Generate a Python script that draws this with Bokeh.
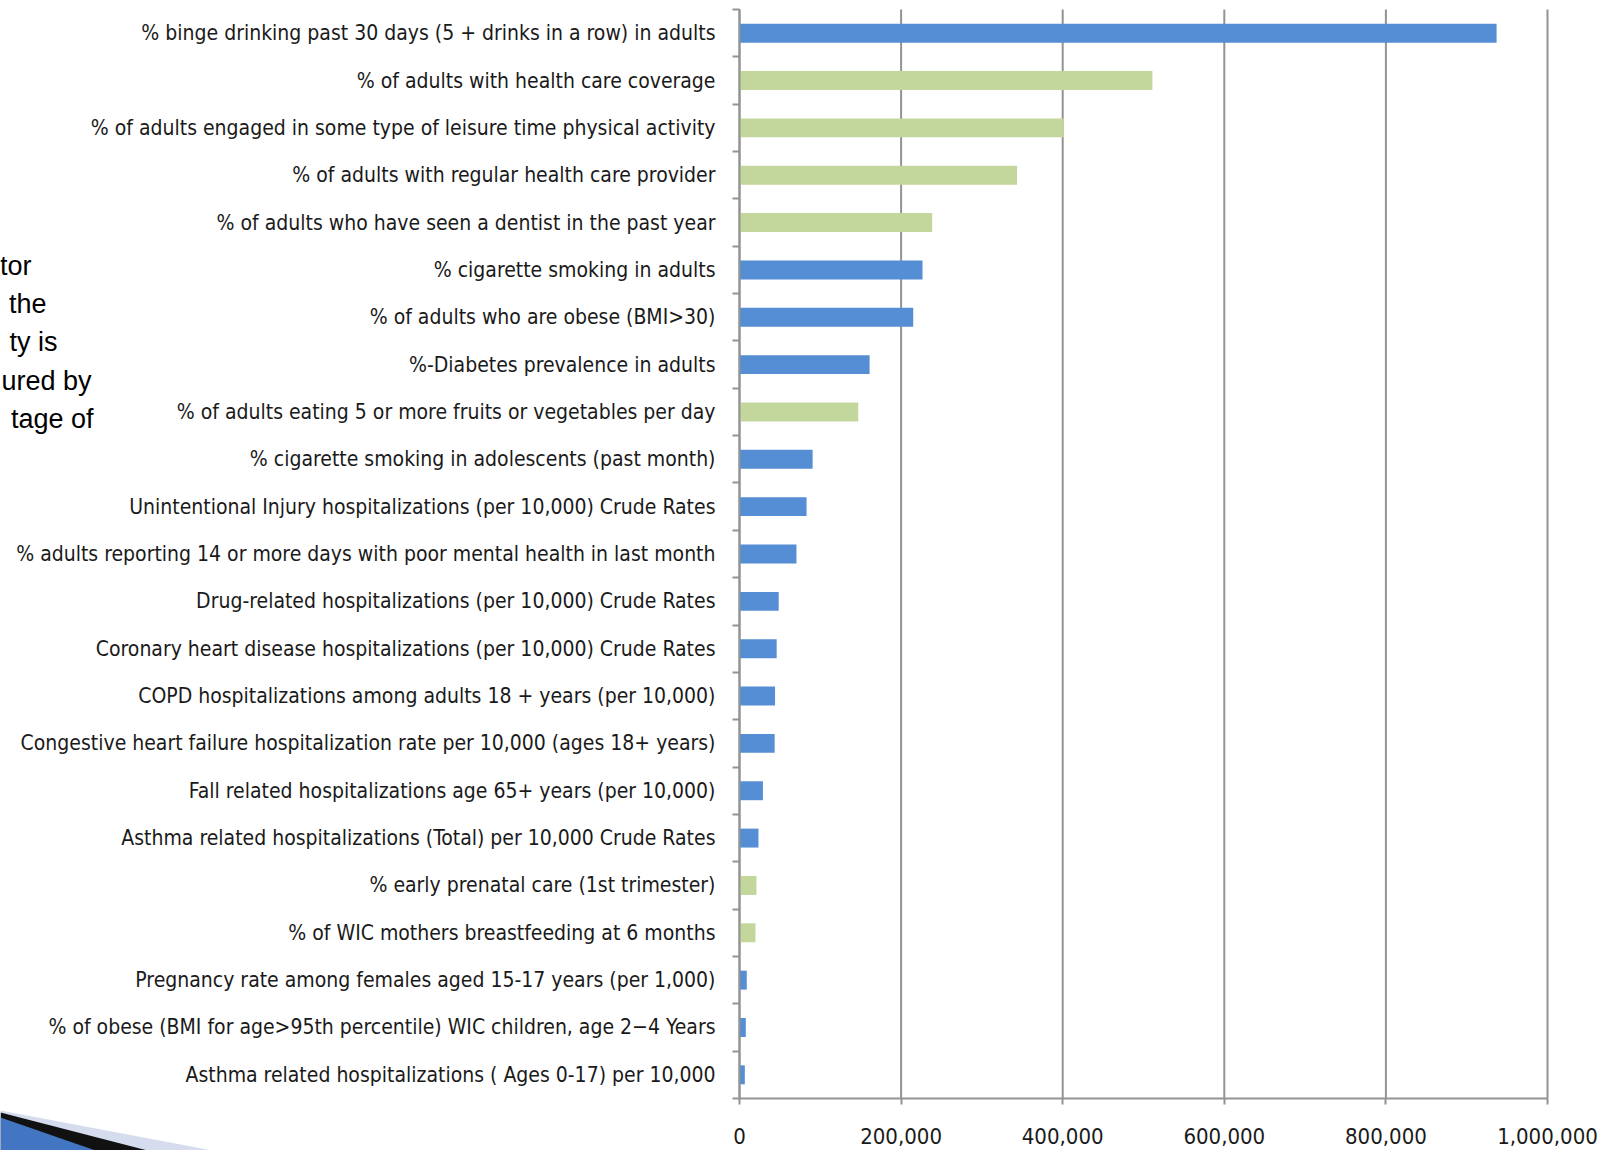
from bokeh.plotting import figure
from bokeh.models import (ColumnDataSource, Range1d, LinearAxis, FixedTicker,
                          NumeralTickFormatter, Label, PolyAnnotation)
from bokeh.transform import factor_cmap
from bokeh.embed import file_html
from bokeh.resources import INLINE

# ---------------- data ----------------
categories = [
    "% binge drinking past 30 days (5 + drinks in a row) in adults",
    "% of adults with health care coverage",
    "% of adults engaged in some type of leisure time physical activity",
    "% of adults with regular health care provider",
    "% of adults who have seen a dentist in the past year",
    "% cigarette smoking in adults",
    "% of adults who are obese (BMI>30)",
    "%-Diabetes prevalence in adults",
    "% of adults eating 5 or more fruits or vegetables per day",
    "% cigarette smoking in adolescents (past month)",
    "Unintentional Injury hospitalizations (per 10,000) Crude Rates",
    "% adults reporting 14 or more days with poor mental health in last month",
    "Drug-related hospitalizations (per 10,000) Crude Rates",
    "Coronary heart disease hospitalizations (per 10,000) Crude Rates",
    "COPD hospitalizations among adults 18 + years (per 10,000)",
    "Congestive heart failure hospitalization rate per 10,000 (ages 18+ years)",
    "Fall related hospitalizations age 65+ years (per 10,000)",
    "Asthma related hospitalizations (Total) per 10,000 Crude Rates",
    "% early prenatal care (1st trimester)",
    "% of WIC mothers breastfeeding at 6 months",
    "Pregnancy rate among females aged 15-17 years (per 1,000)",
    "% of obese (BMI for age>95th percentile) WIC children, age 2\u22124 Years",
    "Asthma related hospitalizations ( Ages 0-17) per 10,000",
]
values = [
    937000, 511000, 401500, 343500, 238500, 226500, 215000, 161000, 147000,
    90500, 83000, 70500, 48500, 46000, 44000, 43500, 29000, 23500, 21000,
    19800, 9000, 7800, 6600,
]
indicator_type = [
    "risk", "good", "good", "good", "good", "risk", "risk", "risk", "good",
    "risk", "risk", "risk", "risk", "risk", "risk", "risk", "risk", "risk",
    "good", "good", "risk", "risk", "risk",
]
x_ticks = [0, 200000, 400000, 600000, 800000, 1000000]
side_text = ["tor", "the", "ty is", "ured by", "tage of"]

# ---------------- layout / styles ----------------
W, H = 1612, 1150
AX_LEFT, AX_RIGHT = 739, 1547        # pixel position of 0 and 1,000,000
AX_TOP, AX_BOTTOM = 9, 1098          # pixel extent of the category axis
BLUE = "#558ED5"
GREEN = "#C3D69B"
GRID = "#939393"
LABEL_FONT = "'Liberation Sans Narrow', 'DejaVu Sans Condensed', sans-serif"

n = len(categories)
idx = list(range(n))
source = ColumnDataSource(dict(idx=idx, value=values, cat=categories, kind=indicator_type))

xmax = x_ticks[-1]
ppx = (AX_RIGHT - AX_LEFT) / xmax            # pixels per unit
band = (AX_BOTTOM - AX_TOP) / n              # pixels per category
x_range = Range1d(-AX_LEFT / ppx, (W - AX_LEFT) / ppx)
y_range = Range1d(n - 0.5 + (H - AX_BOTTOM) / band, -0.5 - AX_TOP / band)

p = figure(width=W, height=H, output_backend="svg", toolbar_location=None,
           x_range=x_range, y_range=y_range,
           x_axis_location=None, y_axis_location=None, min_border=0)
p.outline_line_color = None
p.background_fill_color = "white"
p.border_fill_color = "white"
p.xgrid.grid_line_color = None
p.ygrid.grid_line_color = None

# vertical gridlines at the value ticks, spanning the category axis
p.segment(x0=x_ticks, x1=x_ticks, y0=-0.5, y1=n - 0.5, line_color=GRID, line_width=2)

p.hbar(y="idx", left=0, right="value", height=0.4, source=source,
       fill_color=factor_cmap("kind", [BLUE, GREEN], ["risk", "good"]),
       line_color=None)

# x axis
xaxis = LinearAxis(ticker=FixedTicker(ticks=x_ticks), fixed_location=n - 0.5,
                   bounds=(0, xmax), formatter=NumeralTickFormatter(format="0,0"))
xaxis.axis_line_color = GRID
xaxis.axis_line_width = 2
xaxis.major_tick_line_color = GRID
xaxis.major_tick_line_width = 2
xaxis.major_tick_out = 6
xaxis.major_tick_in = 0
xaxis.minor_tick_line_color = None
xaxis.major_label_standoff = 23
xaxis.major_label_text_font = LABEL_FONT
xaxis.major_label_text_font_size = "22px"
xaxis.major_label_text_color = "#1a1a1a"
p.add_layout(xaxis, "below")

# y axis: labels at category centres, tick marks at category boundaries
yaxis = LinearAxis(ticker=FixedTicker(ticks=idx, minor_ticks=[i - 0.5 for i in range(n + 1)]),
                   fixed_location=0, bounds=(-0.5, n - 0.5))
yaxis.major_label_overrides = {i: c for i, c in zip(idx, categories)}
yaxis.axis_line_color = GRID
yaxis.axis_line_width = 2
yaxis.major_tick_line_color = None
yaxis.major_tick_out = 0
yaxis.major_tick_in = 0
yaxis.minor_tick_line_color = GRID
yaxis.minor_tick_line_width = 2
yaxis.minor_tick_out = 7
yaxis.minor_tick_in = 0
yaxis.major_label_standoff = 17
yaxis.major_label_text_font = LABEL_FONT
yaxis.major_label_text_font_size = "21px"
yaxis.major_label_text_color = "#1a1a1a"
p.add_layout(yaxis, "left")

# clipped slide text at the far left (screen units, y measured from bottom)
rights = [31, 46, 57, 91, 93]
ys = [265, 303, 341, 380, 418]
for t, r, yy in zip(side_text, rights, ys):
    p.add_layout(Label(x=r, y=H - yy, x_units="screen", y_units="screen",
                       text=t, text_align="right", text_baseline="middle",
                       text_font="Liberation Sans", text_font_size="27px",
                       text_color="black"))

# slide corner decoration
for xs, ys_, col in [
    ([0, 212, 0], [1110, 1150, 1150], "#d5dcee"),
    ([0, 147, 0], [1112, 1150, 1150], "#111111"),
    ([0, 95, 0], [1117, 1150, 1150], "#4376c2"),
]:
    p.add_layout(PolyAnnotation(xs=xs, ys=[H - y for y in ys_],
                                xs_units="screen", ys_units="screen",
                                fill_color=col, fill_alpha=1, line_color=None))

open("out.html", "w").write(file_html(p, INLINE))
